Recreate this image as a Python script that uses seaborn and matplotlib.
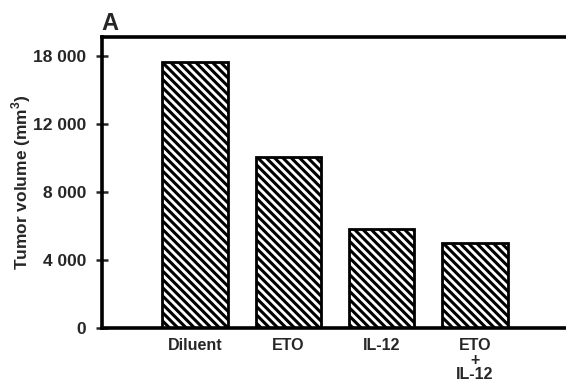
import matplotlib
matplotlib.use("Agg")
import matplotlib.pyplot as plt
import seaborn as sns

# Chart data (bar heights in axis units, tick labels as printed)
groups = ["Diluent", "ETO", "IL-12", "ETO\n+\nIL-12"]
tumor_volume = [15650, 10080, 5820, 5000]
ytick_pos = [0, 4000, 8000, 12000, 16000]
ytick_labels = ["0", "4 000", "8 000", "12 000", "18 000"]

sns.set_style("ticks")
plt.rcParams["font.family"] = ["Liberation Sans", "DejaVu Sans"]
plt.rcParams["font.weight"] = "bold"
plt.rcParams["mathtext.fontset"] = "custom"
plt.rcParams["mathtext.rm"] = "Liberation Sans:bold"
plt.rcParams["mathtext.bf"] = "Liberation Sans:bold"
plt.rcParams["hatch.linewidth"] = 2.2
plt.rcParams["hatch.color"] = "black"

fig = plt.figure(figsize=(5.66, 3.83), dpi=100)
ax = fig.add_axes([0.1797, 0.1436, 0.8203, 0.7608])

sns.barplot(x=groups, y=tumor_volume, color="white", saturation=1,
            edgecolor="black", linewidth=2, width=0.70, hatch="\\\\\\\\", ax=ax)

ax.set_xlim(-1.0, 3.976)
ax.set_ylim(0, 17140)
ax.set_yticks(ytick_pos)
ax.set_yticklabels(ytick_labels, fontsize=12.5, fontweight="bold")
ax.set_xticks(range(len(groups)))
ax.set_xticklabels(groups, fontsize=11.5, fontweight="bold", linespacing=0.95)

ax.tick_params(axis="y", direction="inout", length=8.5, width=1.8, pad=7)
ax.tick_params(axis="x", length=0, pad=7.5)

sns.despine(ax=ax, top=False, right=True)
for side in ["left", "bottom", "top"]:
    ax.spines[side].set_linewidth(2.6)
    ax.spines[side].set_color("black")

ax.set_xlabel("")
ax.set_ylabel(r"Tumor volume (mm$^{3}$)", fontsize=12.5, fontweight="bold")
ax.yaxis.set_label_coords(-0.147, 0.5)

fig.text(0.18, 0.9217, "A", fontsize=17, fontweight="bold", va="baseline")

fig.savefig("out.png", dpi=100)
